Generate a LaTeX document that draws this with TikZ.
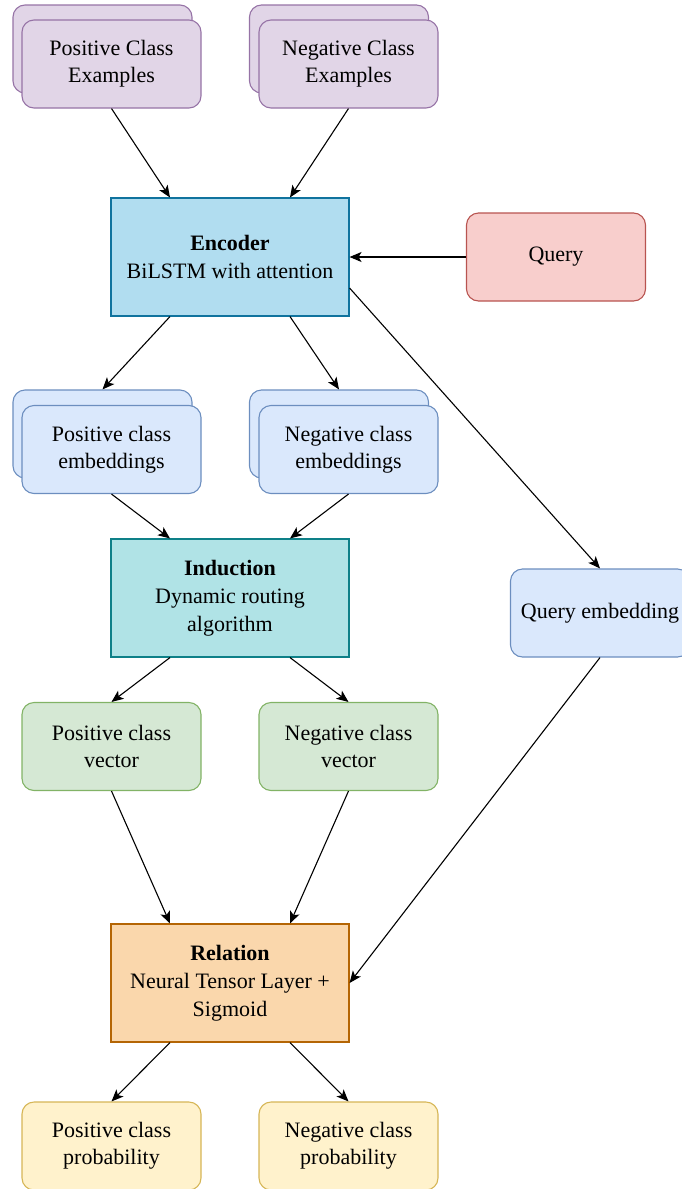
\documentclass[tikz,border=0pt]{standalone}
\usepackage{fontspec}
\setmainfont{Liberation Serif}
\usepackage{tikz}
\usetikzlibrary{positioning,%
  arrows.meta
}

\definecolor{purfill}{HTML}{E1D5E7}
\definecolor{purline}{HTML}{9673A6}
\definecolor{embfill}{HTML}{DAE8FC}
\definecolor{embline}{HTML}{6C8EBF}
\definecolor{encfill}{HTML}{B1DDF0}
\definecolor{encline}{HTML}{10739E}
\definecolor{qfill}{HTML}{F8CECC}
\definecolor{qline}{HTML}{B85450}
\definecolor{indfill}{HTML}{B0E3E6}
\definecolor{indline}{HTML}{0E8088}
\definecolor{vecfill}{HTML}{D5E8D4}
\definecolor{vecline}{HTML}{82B366}
\definecolor{relfill}{HTML}{FAD7AC}
\definecolor{relline}{HTML}{B46504}
\definecolor{probfill}{HTML}{FFF2CC}
\definecolor{probline}{HTML}{D6B656}

\tikzset{
  box/.style={rectangle, rounded corners=12pt, line width=1.1pt,
    minimum width=179pt, minimum height=88pt, inner sep=2pt, align=center,
    font=\fontsize{22}{27}\selectfont},
  block/.style={rectangle, line width=1.1pt,
    minimum width=238pt, minimum height=118pt, inner sep=2pt, align=center,
    font=\fontsize{22}{28}\selectfont},
  flow/.style={-{Stealth[length=12pt,width=10pt,inset=3pt]}, line width=1.1pt},
}

\begin{document}
\begin{tikzpicture}[x=1pt,y=-1pt]
            \useasboundingbox (0,0) rectangle (681,1189);

            % examples
            \node [box, fill=purfill, draw=purline] (posexback) at (102.5,49) {};
            \node [box, fill=purfill, draw=purline] (posex) at (111.5,64) {Positive Class\\Examples};
            \node [box, fill=purfill, draw=purline] (negexback) at (339,49) {};
            \node [box, fill=purfill, draw=purline] (negex) at (348.5,64) {Negative Class\\Examples};

            \node [block, fill=encfill, draw=encline] (enc) at (230,257) {\textbf{Encoder}\\BiLSTM with attention};
            \node [box, fill=qfill, draw=qline] (query) at (556,257) {Query};

            % embeddings
            \node [box, fill=embfill, draw=embline] (posembback) at (102.5,434) {};
            \node [box, fill=embfill, draw=embline] (posemb) at (111.5,449.5) {Positive class\\embeddings};
            \node [box, fill=embfill, draw=embline] (negembback) at (339,434) {};
            \node [box, fill=embfill, draw=embline] (negemb) at (348.5,449.5) {Negative class\\embeddings};

            \node [block, fill=indfill, draw=indline] (ind) at (230,598) {\textbf{Induction}\\Dynamic routing\\algorithm};
            \node [box, fill=embfill, draw=embline] (qemb) at (600,613) {Query embedding};

            \node [box, fill=vecfill, draw=vecline] (posvec) at (111.5,746.5) {Positive class\\vector};
            \node [box, fill=vecfill, draw=vecline] (negvec) at (348.5,746.5) {Negative class\\vector};

            \node [block, fill=relfill, draw=relline] (rel) at (230,983) {\textbf{Relation}\\Neural Tensor Layer +\\Sigmoid};

            \node [box, fill=probfill, draw=probline] (posprob) at (111.5,1146) {Positive class\\probability};
            \node [box, fill=probfill, draw=probline] (negprob) at (348.5,1146) {Negative class\\probability};

            % connectors
            \draw [flow] (posex.south) -- ([xshift=-60pt]enc.north);
            \draw [flow] (negex.south) -- ([xshift=60pt]enc.north);
            \draw [flow] (query.west) -- (enc.east);
            \draw [flow] ([xshift=-60pt]enc.south) -- (posembback.north);
            \draw [flow] ([xshift=60pt]enc.south) -- (negembback.north);
            \draw [flow] ([yshift=-31pt]enc.east) -- (qemb.north);
            \draw [flow] (posemb.south) -- ([xshift=-60pt]ind.north);
            \draw [flow] (negemb.south) -- ([xshift=60pt]ind.north);
            \draw [flow] ([xshift=-60pt]ind.south) -- (posvec.north);
            \draw [flow] ([xshift=60pt]ind.south) -- (negvec.north);
            \draw [flow] (posvec.south) -- ([xshift=-60pt]rel.north);
            \draw [flow] (negvec.south) -- ([xshift=60pt]rel.north);
            \draw [flow] (qemb.south) -- (rel.east);
            \draw [flow] ([xshift=-60pt]rel.south) -- (posprob.north);
            \draw [flow] ([xshift=60pt]rel.south) -- (negprob.north);
        \end{tikzpicture}
\end{document}
